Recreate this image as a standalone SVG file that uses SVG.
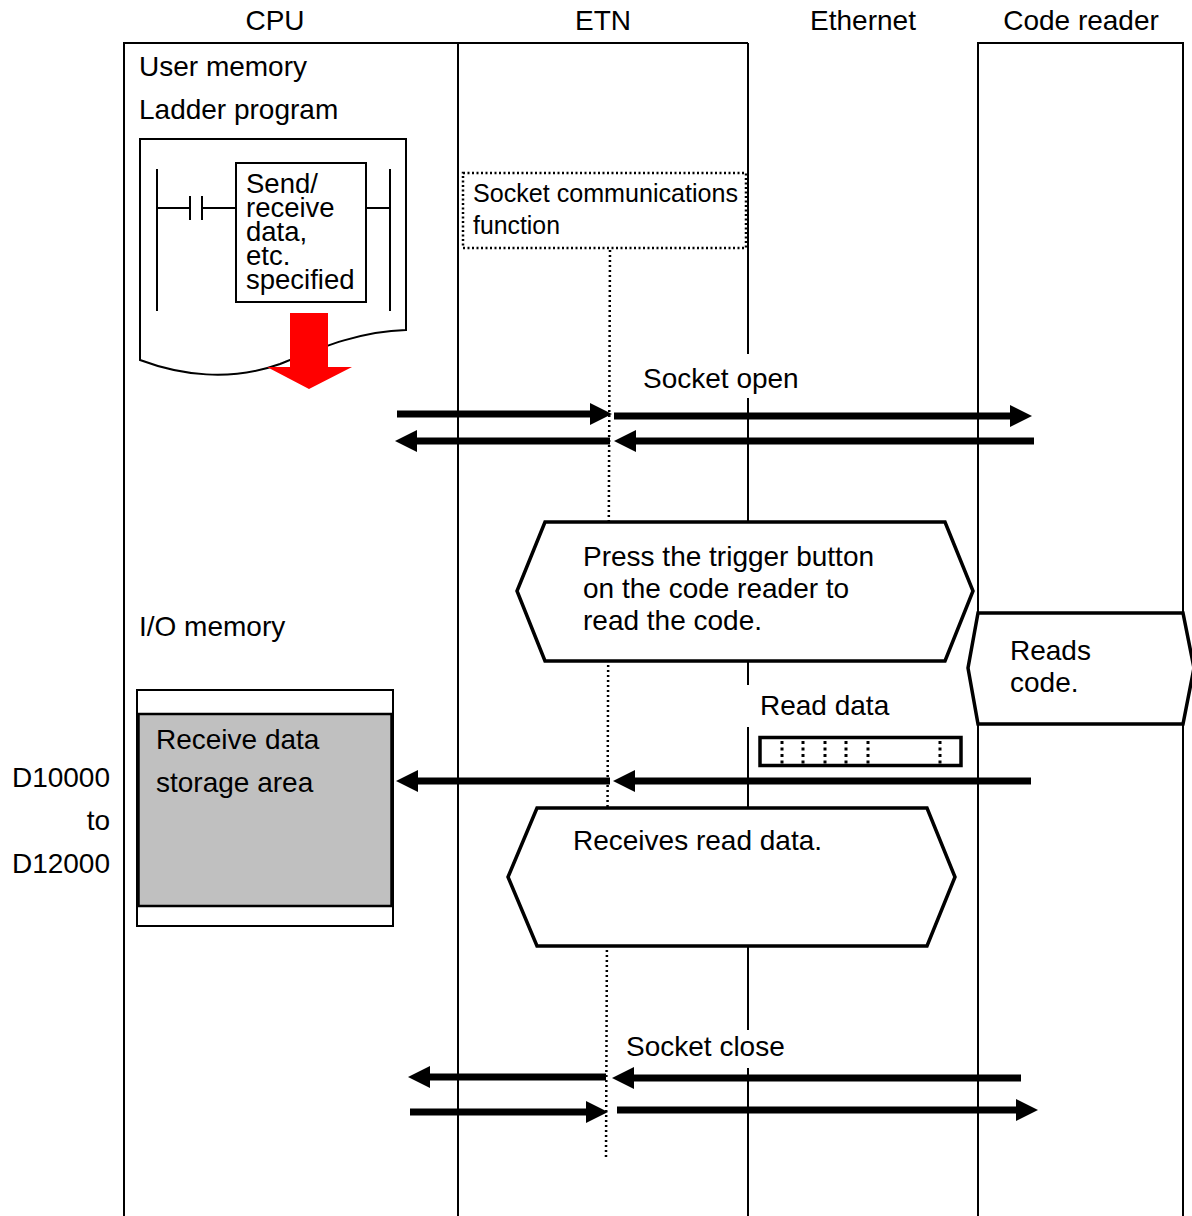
<svg xmlns="http://www.w3.org/2000/svg" width="1192" height="1216" viewBox="0 0 1192 1216">
<style>
text{font-family:"Liberation Sans",Arial,sans-serif;font-size:28px;fill:#000}
.ln{stroke:#000;stroke-width:2;fill:none}
.hex{stroke:#000;stroke-width:3.5;fill:#fff}
.arr{stroke:#000;stroke-width:7;fill:none;marker-end:url(#ah)}
.dot{stroke:#000;stroke-width:2.5;fill:none;stroke-dasharray:2 2.5}
.mid{text-anchor:middle}
.end{text-anchor:end}
.lad{font-size:27.5px}
</style>
<defs>
<marker id="ah" markerUnits="userSpaceOnUse" markerWidth="24" markerHeight="24" refX="4" refY="11" orient="auto">
<path d="M0,0 L22,11 L0,22 z" fill="#000"/>
</marker>
</defs>
<rect width="1192" height="1216" fill="#fff"/>
<g id="frames">
<path class="ln" d="M124,1216 V43 H748"/>
<line class="ln" x1="458" y1="43" x2="458" y2="1216"/>
<path class="ln" d="M748,43 V354 M748,398 V685 M748,727 V1030 M748,1068 V1216"/>
<path class="ln" d="M978,1216 V43 H1183 V1216"/>
</g>
<g id="headers">
<text class="mid" x="275" y="30">CPU</text>
<text class="mid" x="603" y="30">ETN</text>
<text class="mid" x="863" y="30">Ethernet</text>
<text class="mid" x="1081" y="30">Code reader</text>
</g>
<g id="user-memory">
<text x="139" y="76">User memory</text>
<text x="139" y="119">Ladder program</text>
</g>
<g id="ladder-program">
<path class="ln" d="M140,360 V139 H406 V330 C360,331 320,348 280,364 C230,382 180,375 140,360 z" fill="#fff"/>
<path class="ln" d="M157,169 V311 M390,169 V311 M157,208 H190 M190,196 V220 M202,196 V220 M202,208 H236 M366,208 H390"/>
<rect class="ln" x="236" y="163" width="130" height="139" fill="#fff"/>
<text class="lad" x="246" y="193">Send/</text>
<text class="lad" x="246" y="217">receive</text>
<text class="lad" x="246" y="241">data,</text>
<text class="lad" x="246" y="265">etc.</text>
<text class="lad" x="246" y="289">specified</text>
<path d="M290,313 H328 V367 H352 L309,389 L267,367 H290 z" fill="#ff0000"/>
</g>
<g id="socket-function">
<rect class="dot" x="463" y="173" width="283" height="75" fill="#fff"/>
<text x="473" y="202" style="font-size:25.5px" textLength="265" lengthAdjust="spacingAndGlyphs">Socket communications</text>
<text x="473" y="234" style="font-size:25.5px" textLength="87" lengthAdjust="spacingAndGlyphs">function</text>
</g>
<g id="etn-timeline">
<line class="dot" x1="610" y1="250" x2="606" y2="1157" style="stroke-dasharray:2 3"/>
</g>
<g id="trigger">
<polygon class="hex" points="545,522 945,522 973,591 945,661 545,661 517,591"/>
<text x="583" y="566">Press the trigger button</text>
<text x="583" y="598">on the code reader to</text>
<text x="583" y="630">read the code.</text>
</g>
<g id="reads-code">
<polygon class="hex" points="978,613 1183,613 1194,668 1183,724 978,724 968,668"/>
<text x="1010" y="660">Reads</text>
<text x="1010" y="692">code.</text>
</g>
<g id="io-memory">
<text x="139" y="636">I/O memory</text>
<rect class="ln" x="137" y="690" width="256" height="236" fill="#fff"/>
<rect x="138.5" y="714" width="253" height="192" fill="#c0c0c0" stroke="#000" stroke-width="2.5"/>
<text x="156" y="749">Receive data</text>
<text x="156" y="792">storage area</text>
</g>
<g id="address-labels">
<text class="end" x="110" y="787">D10000</text>
<text class="end" x="110" y="830">to</text>
<text class="end" x="110" y="873">D12000</text>
</g>
<g id="read-data">
<text x="760" y="715">Read data</text>
<rect x="760" y="737.5" width="201" height="28" fill="#fff" stroke="#000" stroke-width="3.5"/>
<path d="M782,741 V764 M803,741 V764 M825,741 V764 M846,741 V764 M868,741 V764 M940,741 V764" stroke="#000" stroke-width="3" stroke-dasharray="3 3.5" fill="none"/>
</g>
<g id="receives">
<polygon class="hex" points="537,808 927,808 955,877 927,946 537,946 508,877"/>
<text x="573" y="850">Receives read data.</text>
</g>
<g id="labels">
<text x="643" y="388">Socket open</text>
<text x="626" y="1056">Socket close</text>
</g>
<g id="connectors">
<line class="arr" x1="397" y1="414" x2="594" y2="414"/>
<line class="arr" x1="614" y1="416" x2="1014" y2="416"/>
<line class="arr" x1="610" y1="441" x2="413" y2="441"/>
<line class="arr" x1="1034" y1="441" x2="632" y2="441"/>
<line class="arr" x1="610" y1="781" x2="414" y2="781"/>
<line class="arr" x1="1031" y1="781" x2="631" y2="781"/>
<line class="arr" x1="606" y1="1077" x2="426" y2="1077"/>
<line class="arr" x1="1021" y1="1078" x2="630" y2="1078"/>
<line class="arr" x1="410" y1="1112" x2="590" y2="1112"/>
<line class="arr" x1="617" y1="1110" x2="1020" y2="1110"/>
</g>
</svg>
